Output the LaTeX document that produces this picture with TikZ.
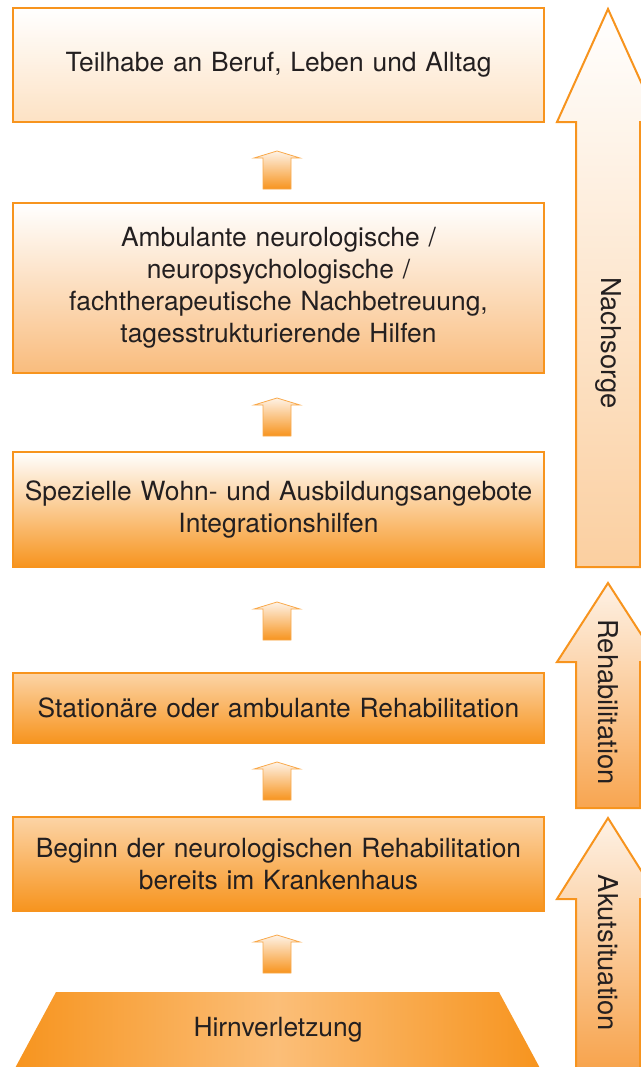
\documentclass[tikz,border=0pt]{standalone}
\usepackage{fontspec}
\setmainfont{TeX Gyre Heros}
\usepackage{tikz}
\usetikzlibrary{calc}
\definecolor{hirn-orange}{RGB}{247,148,30}
\definecolor{hirn-light}{RGB}{254,242,230}
\definecolor{hirn-peach}{RGB}{252,212,166}
\definecolor{hirn-mid}{RGB}{251,190,120}
\definecolor{hirn-text}{RGB}{35,31,32}
\newcommand{\stagefont}{\fontsize{19.8}{24}\selectfont}
\newcommand{\phasefont}{\fontsize{20.5}{24}\selectfont}
\tikzstyle{stage}=[draw=hirn-orange, line width=1.5pt, minimum width=396.75pt, text width=392pt, align=center, text=hirn-text, font=\stagefont]
\tikzstyle{phase}=[draw=hirn-orange, line width=1.5pt]
\tikzstyle{phaselabel}=[rotate=-90, text=hirn-text, font=\phasefont]
\tikzstyle{stepup}=[draw=hirn-orange!80, line width=0.6pt, top color=hirn-light, bottom color=hirn-orange]
\newcommand{\phaseArrow}[4]{
	\draw[phase, #1] (608,#2) -- (659,#3) -- (640,#3) -- (640,#4) -- (576,#4) -- (576,#3) -- (557,#3) -- cycle;
}
\newcommand{\stepArrow}[2]{
	\draw[stepup] (#1,#2) -- ++(23,7) -- ++(-9,0) -- ++(0,31) -- ++(-28,0) -- ++(0,-31) -- ++(-9,0) -- cycle;
}

\begin{document}
\begin{tikzpicture}[x=0.75pt, y=-0.75pt]
	\useasboundingbox (0,0) rectangle (641,1067);
	\clip (0,0) rectangle (641,1067);
	\node[stage, minimum height=85.5pt, top color=white, bottom color={rgb,255:red,253;green,226;blue,196}] (teilhabe) at (278.5,65) {Teilhabe an Beruf, Leben und Alltag};
	\node[stage, minimum height=127.5pt, top color=white, bottom color={rgb,255:red,249;green,188;blue,125}] (ambulant) at (278.5,288) {Ambulante neurologische /\\ neuropsychologische /\\ fachtherapeutische Nachbetreuung,\\ tagesstrukturierende Hilfen};
	\node[stage, minimum height=86.25pt, top color=white, bottom color=hirn-orange] (wohnen) at (278.5,509.5) {Spezielle Wohn- und Ausbildungsangebote\\ Integrationshilfen};
	\node[stage, minimum height=52.5pt, top color=hirn-peach, bottom color=hirn-orange] (station) at (278.5,708) {Stationäre oder ambulante Rehabilitation};
	\node[stage, minimum height=70.5pt, top color=hirn-peach, bottom color=hirn-orange] (beginn) at (278.5,864) {Beginn der neurologischen Rehabilitation\\ bereits im Krankenhaus};
	\shade[left color=hirn-orange, right color=hirn-orange, middle color=hirn-mid] (56,992) -- (499,992) -- (541,1070) -- (14,1070) -- cycle;
	\node[text=hirn-text, font=\stagefont] (hirn) at (278,1030) {Hirnverletzung};
	\stepArrow{277}{151}
	\stepArrow{277}{398}
	\stepArrow{277}{602}
	\stepArrow{277}{762}
	\stepArrow{277}{935}
	\phaseArrow{top color=white, bottom color={rgb,255:red,251;green,207;blue,160}}{9}{122}{567}
	\phaseArrow{top color=hirn-light, bottom color={rgb,255:red,248;green,165;blue,80}}{583}{662}{808}
	\phaseArrow{top color=hirn-light, bottom color={rgb,255:red,247;green,160;blue,70}}{818}{899}{1080}
	\node[phaselabel] (nachsorge) at (608,343) {Nachsorge};
	\node[phaselabel] (reha) at (608,702) {Rehabilitation};
	\node[phaselabel] (akut) at (608,953) {Akutsituation};
\end{tikzpicture}
\end{document}
